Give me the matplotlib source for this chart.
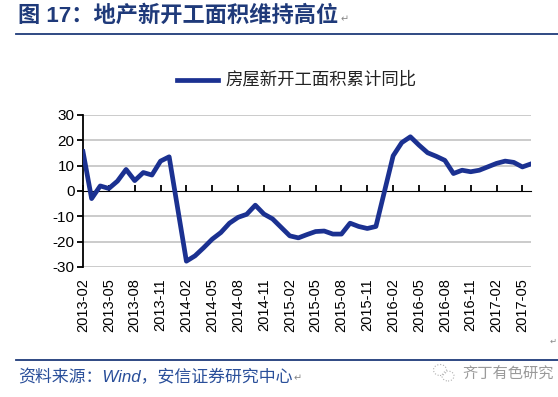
import matplotlib
matplotlib.use("Agg")
import matplotlib.pyplot as plt
from matplotlib.patches import Ellipse
from matplotlib.lines import Line2D

plt.rcParams['font.family'] = ['Liberation Sans', 'Noto Sans CJK SC', 'DejaVu Sans']
plt.rcParams['axes.unicode_minus'] = False

# ---- data (cumulative YoY, %) ----
months = ['2013-02', '2013-03', '2013-04', '2013-05', '2013-06', '2013-07',
          '2013-08', '2013-09', '2013-10', '2013-11', '2013-12',
          '2014-02', '2014-03', '2014-04', '2014-05', '2014-06', '2014-07',
          '2014-08', '2014-09', '2014-10', '2014-11', '2014-12',
          '2015-02', '2015-03', '2015-04', '2015-05', '2015-06', '2015-07',
          '2015-08', '2015-09', '2015-10', '2015-11', '2015-12',
          '2016-02', '2016-03', '2016-04', '2016-05', '2016-06', '2016-07',
          '2016-08', '2016-09', '2016-10', '2016-11', '2016-12',
          '2017-02', '2017-03', '2017-04', '2017-05', '2017-06']
yoy = [15.5, -3.0, 2.0, 1.0, 3.9, 8.5, 4.1, 7.3, 6.3, 11.8, 13.5,
       -27.7, -25.6, -22.4, -19.0, -16.4, -12.7, -10.4, -9.2, -5.6, -9.1, -11.0,
       -17.7, -18.5, -17.2, -16.0, -15.8, -17.0, -17.0, -12.7, -14.0, -14.8, -14.0,
       13.9, 19.1, 21.4, 18.1, 15.1, 13.7, 12.1, 6.9, 8.2, 7.6, 8.2,
       10.9, 11.8, 11.3, 9.5, 10.7]
tick_labels = ['2013-02', '2013-05', '2013-08', '2013-11', '2014-02', '2014-05',
               '2014-08', '2014-11', '2015-02', '2015-05', '2015-08', '2015-11',
               '2016-02', '2016-05', '2016-08', '2016-11', '2017-02', '2017-05']
series_name = '房屋新开工面积累计同比'
title = '图 17：地产新开工面积维持高位'
source = '资料来源：Wind，安信证券研究中心'
watermark = '齐丁有色研究'


def month_pos(s):
    y, m = s.split('-')
    return int(y) * 12 + int(m)


m0 = month_pos(months[0])
x = [month_pos(s) - m0 for s in months]
tick_pos = [month_pos(s) - m0 for s in tick_labels]

NAVY = '#1B3191'
HEAD = '#1F3A7A'

fig = plt.figure(figsize=(5.58, 3.97), dpi=100)
ax = fig.add_axes([83 / 558, 1 - 267 / 397, (531 - 83) / 558, (267 - 115) / 397])

ax.plot(x, yoy, color=NAVY, lw=3.4, solid_joinstyle='round', zorder=3)

ax.set_xlim(0, x[-1])
ax.set_ylim(-30, 30)
ax.set_yticks([-30, -20, -10, 0, 10, 20, 30])
for v in [-30, -20, -10, 10, 20, 30]:
    ax.axhline(v, color='#BDBDBD', lw=1.1, zorder=1)

for s in ['top', 'right', 'bottom']:
    ax.spines[s].set_visible(False)
ax.spines['left'].set_linewidth(1.3)
ax.tick_params(axis='y', direction='out', length=4, width=1.3, pad=2,
               labelsize=11, colors='black')

ax.set_xticks(tick_pos)
ax.set_xticklabels(tick_labels, rotation=90, fontsize=10.5)
ax.tick_params(axis='x', length=0, pad=8)

# zero axis with tick marks
zero_ax = ax.secondary_xaxis(0.5)
zero_ax.set_xticks(tick_pos)
zero_ax.set_xticklabels([])
zero_ax.spines['bottom'].set_linewidth(1.5)
zero_ax.tick_params(axis='x', direction='out', length=4, width=1.3)

# legend
fig.add_artist(Line2D([177 / 558, 218 / 558], [1 - 80 / 397] * 2,
                      color=NAVY, lw=3.4, transform=fig.transFigure))
fig.text(225 / 558, 1 - 80 / 397, series_name, fontsize=12.5, va='center',
         ha='left', color='#222222', family=['Noto Sans CJK SC'])

renderer = fig.canvas.get_renderer()

# header
t_title = fig.text(18 / 558, 1 - 16 / 397, title, fontsize=16, fontweight='bold',
                   color=HEAD, va='center', ha='left',
                   family=['Liberation Sans', 'Noto Sans CJK SC'])
bb = t_title.get_window_extent(renderer)
fig.text((bb.x1 + 2) / 558, 1 - 19 / 397, '↵', fontsize=7, color='#888888',
         va='center', ha='left', family=['DejaVu Sans'])
fig.add_artist(Line2D([16 / 558, 1.0], [1 - 33.5 / 397] * 2, color=HEAD,
                      lw=1.3, transform=fig.transFigure))

# footer
fig.text(557 / 558, 1 - 341 / 397, '↵', fontsize=6, color='#888888',
         va='center', ha='right', family=['DejaVu Sans'])
fig.add_artist(Line2D([16 / 558, 1.0], [1 - 359.5 / 397] * 2, color=HEAD,
                      lw=1.3, transform=fig.transFigure))
t_src = fig.text(18 / 558, 1 - 377 / 397, source, fontsize=12.2, style='italic',
                 color='#2A4F9A', va='center', ha='left',
                 family=['Liberation Sans', 'Noto Sans CJK SC'])
bb = t_src.get_window_extent(renderer)
fig.text((bb.x1 + 1) / 558, 1 - 378 / 397, '↵', fontsize=7, color='#888888',
         va='center', ha='left', family=['DejaVu Sans'])
fig.text(462 / 558, 1 - 373 / 397, watermark, fontsize=11, color='#9A9A9A',
         va='center', ha='left', family=['Noto Sans CJK SC'])
fig.add_artist(Ellipse((440 / 558, 1 - 370 / 397), 13 / 558, 11 / 397,
                       fill=False, ec='#B0B0B0', lw=0.8, ls=':',
                       transform=fig.transFigure))
fig.add_artist(Ellipse((448 / 558, 1 - 376 / 397), 12 / 558, 10 / 397,
                       fill=False, ec='#B0B0B0', lw=0.8, ls=':',
                       transform=fig.transFigure))

fig.savefig('out.png', dpi=100)
